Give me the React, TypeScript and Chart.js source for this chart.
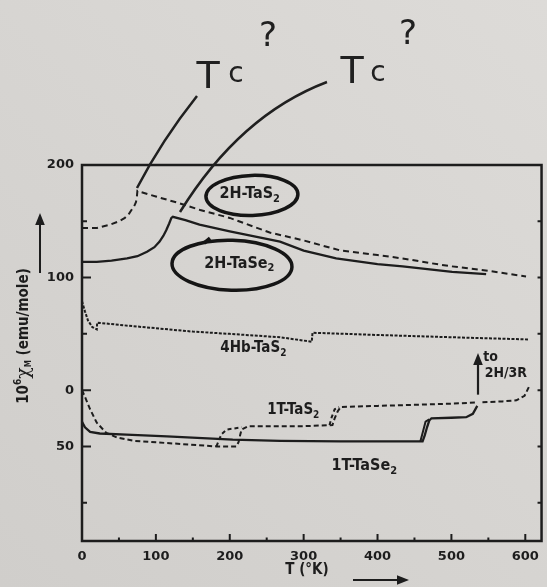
import React, { useEffect, useRef } from "react";
import Chart from "chart.js/auto";

// ---------------- data (T in K, 10^6 chi_M in emu/mole) ----------------
const T_2H_TAS2 = [0, 20, 38, 50, 58, 64, 68, 71, 73, 74, 75, 100, 132, 160, 200, 254, 300, 350, 400, 434, 470, 500, 550, 601];
const CHI_2H_TAS2 = [144, 144, 147, 150, 153, 157, 161, 164, 167, 170, 177, 172, 166, 160, 153, 140, 133, 124, 120, 117, 113, 110, 106, 101];

const T_2H_TASE2 = [0, 20, 40, 61, 75, 88, 98, 105, 110, 114, 118, 121, 123, 140, 159, 200, 268, 300, 344, 400, 434, 501, 547];
const CHI_2H_TASE2 = [114, 114, 115, 117, 119, 123, 127, 132, 137, 142, 148, 153, 154, 151, 147, 141, 132, 124, 117, 112, 110, 105, 103];

const T_4HB_TAS2 = [0, 4, 8, 14, 20, 20.5, 50, 100, 150, 200, 268, 311, 312, 400, 500, 605];
const CHI_4HB_TAS2 = [79, 70, 62, 56, 54, 60, 58, 55, 52, 50, 47, 43, 51, 49, 47, 45];

const T_1T_TAS2 = [0, 4, 11, 20, 33, 47, 70, 115, 182, 209, 212, 214, 216, 225, 260, 300, 339, 342, 346, 350, 400, 450, 500, 534, 538, 542, 569, 588, 599, 605];
const CHI_1T_TAS2 = [0, -6, -17, -29, -38, -42, -45, -47, -50, -50, -46, -40, -35, -32, -32, -32, -31, -25, -19, -15, -14, -13, -12, -11, null, -10.7, -10, -9, -5, 3];

const T_1T_TAS2_LOOP_A = [182, 185, 189, 196, 216];
const CHI_1T_TAS2_LOOP_A = [-50, -45, -39, -35, -33];
const T_1T_TAS2_LOOP_B = [335, 338, 342, 348];
const CHI_1T_TAS2_LOOP_B = [-31, -24, -17, -15];

const T_1T_TASE2 = [0, 4, 11, 24, 60, 115, 204, 268, 350, 420, 461, 464, 467, 470, 473, 500, 520, 529, 535];
const CHI_1T_TASE2 = [-28, -33, -37, -38.5, -39.5, -41, -44, -45, -45.5, -45.5, -45.5, -40, -33, -27, -25, -24.5, -24, -21, -14];
const T_1T_TASE2_LOOP = [458, 461, 465, 470];
const CHI_1T_TASE2_LOOP = [-45.5, -38, -28, -26];

// ---------------- axes ----------------
const X_MAJOR = [0, 100, 200, 300, 400, 500, 600];
const X_MINOR = [50, 150, 250, 350, 450, 550];
const Y_TICKS = [200, 150, 100, 50, 0, -50, -100];
const Y_TICK_LABELS = ["200", "", "100", "", "0", "50", ""];
const X_MIN = 0, X_MAX = 622, Y_MIN = -134, Y_MAX = 200;

const INK = "#1d1d1d";
const LABEL_FONT = '"DejaVu Sans Condensed", "DejaVu Sans"';

const pts = (xs: number[], ys: (number | null)[]) => xs.map((x, i) => ({ x, y: ys[i] }));

function drawFormula(ctx: CanvasRenderingContext2D, base: string, sub: string, cx: number, cy: number, size: number) {
  const fb = `bold ${size}px ${LABEL_FONT}`;
  const fs = `bold ${Math.round(size * 0.68)}px ${LABEL_FONT}`;
  ctx.font = fb;
  const wb = ctx.measureText(base).width;
  ctx.font = fs;
  const ws = ctx.measureText(sub).width;
  const x0 = cx - (wb + ws) / 2;
  ctx.textAlign = "left";
  ctx.textBaseline = "middle";
  ctx.font = fb;
  ctx.fillText(base, x0, cy);
  ctx.font = fs;
  ctx.fillText(sub, x0 + wb, cy + size * 0.32);
}

function arrow(ctx: CanvasRenderingContext2D, x1: number, y1: number, x2: number, y2: number, head: number, w: number) {
  const ang = Math.atan2(y2 - y1, x2 - x1);
  ctx.lineWidth = w;
  ctx.beginPath();
  ctx.moveTo(x1, y1);
  ctx.lineTo(x2 - Math.cos(ang) * head * 0.6, y2 - Math.sin(ang) * head * 0.6);
  ctx.stroke();
  ctx.beginPath();
  ctx.moveTo(x2, y2);
  ctx.lineTo(x2 - head * Math.cos(ang) + (head * 0.4) * Math.sin(ang), y2 - head * Math.sin(ang) - (head * 0.4) * Math.cos(ang));
  ctx.lineTo(x2 - head * Math.cos(ang) - (head * 0.4) * Math.sin(ang), y2 - head * Math.sin(ang) + (head * 0.4) * Math.cos(ang));
  ctx.closePath();
  ctx.fill();
}

const decor = {
  id: "decor",
  beforeDraw(chart: any) {
    const { ctx, width, height } = chart;
    ctx.save();
    const g = ctx.createLinearGradient(0, height, width, 0);
    g.addColorStop(0, "#d0cecb");
    g.addColorStop(1, "#dddbd8");
    ctx.fillStyle = g;
    ctx.fillRect(0, 0, width, height);
    ctx.restore();
  },
  afterDatasetsDraw(chart: any) {
    const { ctx, chartArea: a, scales } = chart;
    const xs = scales.x, ys = scales.y;
    const px = (v: number) => xs.getPixelForValue(v);
    const py = (v: number) => ys.getPixelForValue(v);
    ctx.save();
    ctx.strokeStyle = INK;
    ctx.fillStyle = INK;
    ctx.lineCap = "butt";

    // frame
    ctx.lineWidth = 2.5;
    ctx.strokeRect(a.left, a.top, a.right - a.left, a.bottom - a.top);

    // inward ticks
    ctx.lineWidth = 2;
    ctx.beginPath();
    X_MAJOR.forEach((v) => { ctx.moveTo(px(v), a.bottom); ctx.lineTo(px(v), a.bottom - 7); });
    X_MINOR.forEach((v) => { ctx.moveTo(px(v), a.bottom); ctx.lineTo(px(v), a.bottom - 3.5); });
    Y_TICKS.forEach((v, i) => {
      const len = Y_TICK_LABELS[i] ? 9 : 5;
      ctx.moveTo(a.left, py(v)); ctx.lineTo(a.left + len, py(v));
      ctx.moveTo(a.right, py(v)); ctx.lineTo(a.right - 4, py(v));
    });
    ctx.stroke();

    // curve labels
    ctx.fillStyle = INK;
    drawFormula(ctx, "2H-TaS", "2", px(227), py(174), 16);
    drawFormula(ctx, "2H-TaSe", "2", px(213), py(112.5), 16);
    drawFormula(ctx, "4Hb-TaS", "2", px(232), py(37), 15);
    drawFormula(ctx, "1T-TaS", "2", px(286), py(-18), 15);
    drawFormula(ctx, "1T-TaSe", "2", px(382), py(-67), 16);

    // hand-drawn loops
    ctx.lineWidth = 3.5;
    ctx.strokeStyle = "#151515";
    ctx.beginPath();
    ctx.ellipse(px(230), py(173), 46, 20, -0.03, 0, Math.PI * 2);
    ctx.stroke();
    ctx.beginPath();
    ctx.ellipse(px(203), py(111), 60, 25, 0.03, 0, Math.PI * 2);
    ctx.stroke();
    ctx.beginPath();
    ctx.moveTo(px(203) - 28, py(111) - 22);
    ctx.lineTo(px(203) - 22, py(111) - 27);
    ctx.stroke();

    // "to 2H/3R" arrow
    ctx.strokeStyle = INK;
    arrow(ctx, px(536), py(-4), px(536), py(33), 12, 2.2);
    ctx.font = `bold 14px ${LABEL_FONT}`;
    ctx.textAlign = "left";
    ctx.textBaseline = "middle";
    ctx.fillText("to", px(543), py(29));
    ctx.fillText("2H/3R", px(545), py(15));

    // axis titles
    ctx.save();
    ctx.translate(24, 336);
    ctx.rotate(-Math.PI / 2);
    const f1 = `bold 15px ${LABEL_FONT}`;
    const fsup = `bold 10px ${LABEL_FONT}`;
    const fchi = '19px "DejaVu Serif"';
    const fsub = `bold 8px ${LABEL_FONT}`;
    const parts: [string, string, number][] = [["10", f1, 0], ["6", fsup, -6], ["χ", fchi, 0], ["M", fsub, 5], [" (emu/mole)", f1, 0]];
    let tot = 0;
    parts.forEach(([t, f]) => { ctx.font = f; tot += ctx.measureText(t).width; });
    let cx = -tot / 2;
    ctx.textBaseline = "middle";
    ctx.textAlign = "left";
    parts.forEach(([t, f, dy]) => { ctx.font = f; ctx.fillText(t, cx, dy); cx += ctx.measureText(t).width; });
    ctx.restore();

    ctx.lineWidth = 2;
    arrow(ctx, 40, 273, 40, 213, 12, 2);

    ctx.font = `bold 15px ${LABEL_FONT}`;
    ctx.textAlign = "center";
    ctx.textBaseline = "middle";
    ctx.fillText("T (°K)", 307, 570);
    arrow(ctx, 353, 580, 409, 580, 12, 2);

    // handwritten annotations
    ctx.fillStyle = "#202020";
    ctx.strokeStyle = "#202020";
    ctx.textAlign = "center";
    ctx.textBaseline = "alphabetic";
    ctx.font = '38px "DejaVu Sans"';
    ctx.fillText("T", 208, 88);
    ctx.fillText("T", 352, 83);
    ctx.font = '28px "DejaVu Sans"';
    ctx.fillText("c", 236, 82);
    ctx.fillText("c", 378, 81);
    ctx.font = '34px "DejaVu Sans"';
    ctx.fillText("?", 268, 46);
    ctx.fillText("?", 408, 44);

    ctx.lineWidth = 2.5;
    ctx.beginPath();
    ctx.moveTo(197, 96);
    ctx.quadraticCurveTo(162, 140, 137, 188);
    ctx.stroke();
    ctx.beginPath();
    ctx.moveTo(327, 82);
    ctx.quadraticCurveTo(240, 115, 180, 212);
    ctx.stroke();

    ctx.restore();
  },
};

export default function App() {
  const ref = useRef<HTMLCanvasElement | null>(null);
  useEffect(() => {
    document.body.style.margin = "0";
    const canvas = ref.current!;
    const line = (data: any[], dash: number[], w: number) => ({
      data,
      borderColor: INK,
      borderWidth: w,
      borderDash: dash,
      pointRadius: 0,
      tension: 0,
      fill: false,
      spanGaps: false,
    });
    const chart = new Chart(canvas, {
      type: "line",
      data: {
        datasets: [
          { label: "2H-TaS2", ...line(pts(T_2H_TAS2, CHI_2H_TAS2), [6, 4], 2) },
          { label: "2H-TaSe2", ...line(pts(T_2H_TASE2, CHI_2H_TASE2), [], 2.3) },
          { label: "4Hb-TaS2", ...line(pts(T_4HB_TAS2, CHI_4HB_TAS2), [3, 1.5], 2) },
          { label: "1T-TaS2", ...line(pts(T_1T_TAS2, CHI_1T_TAS2), [5, 3], 2) },
          { label: "1T-TaS2 loop", ...line(pts(T_1T_TAS2_LOOP_A, CHI_1T_TAS2_LOOP_A), [4, 3], 2) },
          { label: "1T-TaS2 loop 2", ...line(pts(T_1T_TAS2_LOOP_B, CHI_1T_TAS2_LOOP_B), [4, 3], 2) },
          { label: "1T-TaSe2", ...line(pts(T_1T_TASE2, CHI_1T_TASE2), [], 2.3) },
          { label: "1T-TaSe2 loop", ...line(pts(T_1T_TASE2_LOOP, CHI_1T_TASE2_LOOP), [], 2) },
        ],
      },
      options: {
        responsive: false,
        devicePixelRatio: 1,
        animation: false,
        layout: { padding: { left: 0, right: 4, top: 165, bottom: 0 } },
        plugins: { legend: { display: false }, tooltip: { enabled: false }, title: { display: false } },
        scales: {
          x: {
            type: "linear",
            min: X_MIN,
            max: X_MAX,
            afterBuildTicks: (s: any) => { s.ticks = X_MAJOR.map((v) => ({ value: v })); },
            afterFit: (s: any) => { s.height = 46; },
            ticks: {
              autoSkip: false,
              maxRotation: 0,
              padding: 8,
              color: INK,
              font: { family: "DejaVu Sans", size: 13, weight: "bold" },
              callback: (v: any) => String(v),
            },
            grid: { display: false, drawTicks: false },
            border: { display: false },
          },
          y: {
            type: "linear",
            min: Y_MIN,
            max: Y_MAX,
            afterBuildTicks: (s: any) => { s.ticks = Y_TICKS.map((v) => ({ value: v })); },
            afterFit: (s: any) => { s.width = 82; },
            ticks: {
              autoSkip: false,
              padding: 8,
              color: INK,
              font: { family: "DejaVu Sans", size: 13, weight: "bold" },
              callback: (v: any) => Y_TICK_LABELS[Y_TICKS.indexOf(v)] ?? "",
            },
            grid: { display: false, drawTicks: false },
            border: { display: false },
          },
        },
      },
      plugins: [decor],
    } as any);
    return () => chart.destroy();
  }, []);
  return <canvas ref={ref} width={547} height={587} style={{ display: "block", width: 547, height: 587 }} />;
}
